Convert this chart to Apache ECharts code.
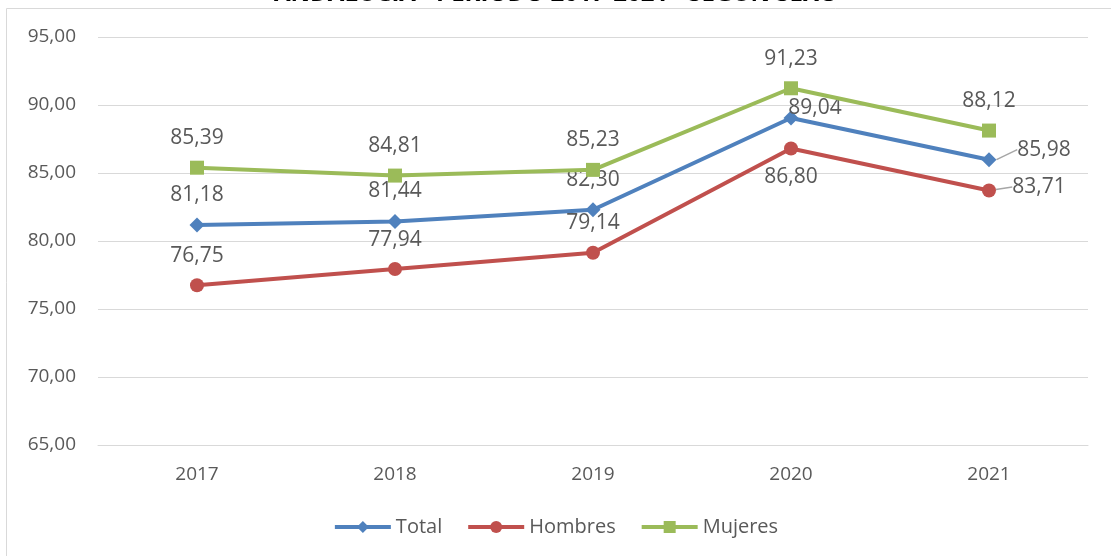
<!DOCTYPE html>
<html style="height: 100%; width: 100%;">
<head>
    <meta charset="utf-8">
    <title>Andalucía - periodo 2017-2021</title>
    <script src="https://cdn.jsdelivr.net/npm/echarts@6/dist/echarts.min.js"></script>
    <style>
        body, html { margin: 0; padding: 0; width: 100%; height: 100%; background: #fff; }
        #main { width: 1111px; height: 556px; }
    </style>
</head>
<body>
<div id="main"></div>
<script type="text/javascript">
    var years = ['2017', '2018', '2019', '2020', '2021'];
    var total = [81.18, 81.44, 82.30, 89.04, 85.98];
    var hombres = [76.75, 77.94, 79.14, 86.80, 83.71];
    var mujeres = [85.39, 84.81, 85.23, 91.23, 88.12];

    // label shifts (px) per point, [dx, dy] relative to the default 'top' spot
    var shifts = {
        0: [[0, 0], [0, 0], [0, 0], [24, 20], [55, 20]],
        1: [[0, 0], [0, 0], [0, 0], [0, 58], [50, 26]],
        2: [[0, 0], [0, 0], [0, 0], [0, 0], [0, 0]]
    };

    var fontFam = 'Open Sans, Noto Sans, sans-serif';
    var chart = echarts.init(document.getElementById('main'));

    function fmt(p) {
        return p.value.toFixed(2).replace('.', ',');
    }

    function mkSeries(name, vals, color, symbol, size, idx) {
        // leader lines only on the 2021 labels of Total and Hombres
        var data = vals.map(function (v, i) {
            return { value: v, labelLine: { show: idx !== 2 && i === 4 } };
        });
        return {
            name: name,
            type: 'line',
            data: data,
            symbol: symbol,
            symbolSize: size,
            color: color,
            lineStyle: { width: 4, color: color },
            itemStyle: { color: color },
            label: {
                show: true,
                position: 'top',
                distance: 12,
                formatter: fmt,
                fontFamily: fontFam,
                fontSize: 21,
                color: '#595959'
            },
            labelLine: { show: false, lineStyle: { color: '#a6a6a6', width: 1.5 } },
            labelLayout: function (params) {
                var s = shifts[idx][params.dataIndex];
                return { dx: s[0], dy: s[1] };
            },
            z: 3 + idx
        };
    }

    var option = {
        animation: false,
        graphic: [
            {
                type: 'rect',
                shape: { x: 6.5, y: 8.5, width: 1110, height: 560 },
                style: { fill: 'none', stroke: '#d9d9d9', lineWidth: 1 },
                z: -1
            },
            {
                type: 'text',
                x: 556,
                y: -6,
                style: {
                    text: 'ANDALUCÍA - PERIODO 2017-2021 - SEGÚN SEXO',
                    font: 'bold 24px ' + fontFam,
                    fill: '#000',
                    align: 'center',
                    verticalAlign: 'middle'
                }
            }
        ],
        grid: { left: 98, right: 23, top: 37, bottom: 111 },
        legend: {
            bottom: 14,
            left: 'center',
            itemWidth: 56,
            itemHeight: 15,
            itemGap: 24,
            lineStyle: { width: 4 },
            textStyle: { fontFamily: fontFam, fontSize: 20, color: '#595959' },
            data: ['Total', 'Hombres', 'Mujeres']
        },
        xAxis: {
            type: 'category',
            data: years,
            boundaryGap: true,
            axisLine: { lineStyle: { color: '#d9d9d9', width: 1 } },
            axisTick: { show: false },
            axisLabel: { margin: 20, fontFamily: fontFam, fontSize: 19, color: '#595959' }
        },
        yAxis: {
            type: 'value',
            min: 65,
            max: 95,
            interval: 5,
            axisLine: { show: false },
            axisTick: { show: false },
            splitLine: { lineStyle: { color: '#d9d9d9', width: 1 } },
            axisLabel: {
                margin: 22,
                fontFamily: fontFam,
                fontSize: 19,
                color: '#595959',
                formatter: function (v) { return v.toFixed(2).replace('.', ','); }
            }
        },
        series: [
            mkSeries('Total', total, '#4F81BD', 'diamond', 15, 0),
            mkSeries('Hombres', hombres, '#C0504D', 'circle', 14, 1),
            mkSeries('Mujeres', mujeres, '#9BBB59', 'rect', 14, 2)
        ]
    };

    chart.setOption(option);
</script>
</body>
</html>
